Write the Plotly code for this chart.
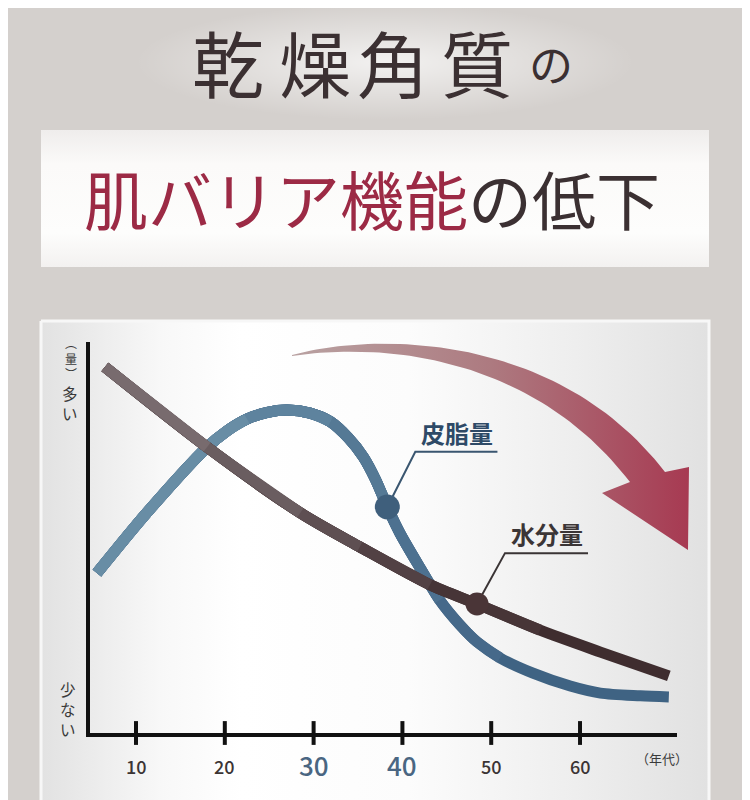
import numpy as np
import plotly.graph_objects as go

# ---------------- data ----------------
sebum_age = [5.6, 11.2, 18.0, 20.2, 22.5, 24.8, 27.0, 29.6, 31.9, 33.9, 35.6, 37.0, 38.3, 39.7, 42.0,
             44.2, 46.5, 48.4, 51.0, 54.7, 58.9, 62.3, 66.8, 70.0]
sebum_val = [40.9, 56.3, 73.1, 77.2, 80.3, 82.0, 82.6, 81.8, 79.6, 75.5, 70.6, 64.7, 57.8, 51.2, 42.2,
             34.0, 27.6, 23.3, 19.2, 15.3, 12.0, 10.2, 9.5, 9.2]
water_age = [6.5, 18.0, 28.5, 35.2, 43.1, 48.4, 55.5, 62.3, 70.0]
water_val = [93.6, 73.1, 56.3, 47.6, 37.9, 33.0, 26.3, 20.7, 14.6]
sebum_marker_idx = 12
water_marker_idx = 5
series_names = ["皮脂量", "水分量"]
tick_vals = [10, 20, 30, 40, 50, 60]
tick_text = ["10", "20", "30", "40", "50", "60"]
highlight_ticks = ["30", "40"]
x_unit = "（年代）"
y_top_label = ["︵", "量", "︶"]
y_high_label = ["多", "い"]
y_low_label = ["少", "な", "い"]
title_chars = ["乾", "燥", "角", "質"]
title_tail = "の"
banner_red = "肌バリア機能"
banner_dark = "の低下"

OFF = 8                      # page body offset
W, H = 750 - OFF, 800 - OFF
FONT = "Noto Sans CJK JP, Noto Sans, sans-serif"

# colour shading along each line (dark end first, then lighter overlays ending earlier)
BLUE_STEPS = [(None, "#3f6383"), (18, "#46698a"), (15, "#4d7190"), (12, "#557995"),
              (8, "#5e839e"), (4, "#688da5")]
BROWN_STEPS = [(None, "#3f2d2f"), (6, "#473537"), (4, "#524144"), (3, "#5e4f52"),
               (2, "#6a5d60"), (1, "#786b6e")]

fig = go.Figure()

def bez(p0, p1, p2, p3, n=60):
    t = np.linspace(0, 1, n)
    x = (1-t)**3*p0[0] + 3*(1-t)**2*t*p1[0] + 3*(1-t)*t**2*p2[0] + t**3*p3[0]
    y = (1-t)**3*p0[1] + 3*(1-t)**2*t*p1[1] + 3*(1-t)*t**2*p2[1] + t**3*p3[1]
    return list(x), list(y)

# ---------- decoration layer (pixel axes x/y) ----------
# title glow
th = np.linspace(0, 2*np.pi, 80)
fig.add_trace(go.Scatter(
    x=list(385 + 250*np.cos(th)), y=list(62 + 58*np.sin(th)),
    mode="lines", line=dict(width=0), fill="toself",
    fillgradient=dict(type="radial",
                      colorscale=[[0, "rgba(255,255,255,0.7)"], [0.6, "rgba(255,255,255,0.28)"], [1, "rgba(255,255,255,0)"]]),
    hoverinfo="skip", showlegend=False, xaxis="x", yaxis="y"))

# banner
fig.add_trace(go.Scatter(
    x=[41, 709, 709, 41, 41], y=[130, 130, 267, 267, 130],
    mode="lines", line=dict(width=0), fill="toself",
    fillgradient=dict(type="vertical",
                      colorscale=[[0, "#f3f1f0"], [0.25, "#fdfdfc"], [0.75, "#fbfaf9"], [1, "#efedec"]]),
    hoverinfo="skip", showlegend=False, xaxis="x", yaxis="y"))

# chart panel
fig.add_trace(go.Scatter(
    x=[41, 709, 709, 41, 41], y=[321, 321, 802, 802, 321],
    mode="lines", line=dict(width=3, color="#f7f7f7"), fill="toself",
    fillgradient=dict(type="horizontal",
                      colorscale=[[0, "#e2e2e2"], [0.18, "#f8f8f8"], [0.3, "#ffffff"],
                                  [0.55, "#fcfcfc"], [0.8, "#eeeeee"], [1, "#e1e1e1"]]),
    hoverinfo="skip", showlegend=False, xaxis="x", yaxis="y"))

# red arrow
ux, uy = bez((292, 355), (380, 331), (560, 335), (665, 472))
lx, ly = bez((630, 482), (540, 365), (400, 340), (292, 356))
ax_ = ux + [689, 688, 602] + lx
ay_ = uy + [467, 550, 493] + ly
fig.add_trace(go.Scatter(
    x=ax_, y=ay_, mode="lines", line=dict(width=0), fill="toself",
    fillgradient=dict(type="horizontal",
                      colorscale=[[0, "#b9a2a2"], [0.5, "#ad7a80"], [1, "#a73a52"]]),
    hoverinfo="skip", showlegend=False, xaxis="x", yaxis="y"))

# ---------- chart layer (x2/y2) ----------
def shaded_line(xs, ys, steps):
    for end, col in steps:
        sl = slice(None) if end is None else slice(0, end + 1)
        fig.add_trace(go.Scatter(
            x=xs[sl], y=ys[sl], mode="lines",
            line=dict(color=col, width=11, shape="spline", smoothing=0.8),
            hoverinfo="skip", showlegend=False, xaxis="x2", yaxis="y2"))

shaded_line(sebum_age, sebum_val, BLUE_STEPS)
shaded_line(water_age, water_val, BROWN_STEPS)

# leader lines
sx, sy = sebum_age[sebum_marker_idx], sebum_val[sebum_marker_idx]
wx, wy = water_age[water_marker_idx], water_val[water_marker_idx]
fig.add_trace(go.Scatter(
    x=[sx, sx + 3.15, sx + 12.4], y=[sy, sy + 14.1, sy + 14.1], mode="lines",
    line=dict(color="#3a5670", width=2), hoverinfo="skip", showlegend=False, xaxis="x2", yaxis="y2"))
fig.add_trace(go.Scatter(
    x=[wx, wx + 3.15, wx + 12.5], y=[wy, wy + 13.0, wy + 13.0], mode="lines",
    line=dict(color="#3a3435", width=2), hoverinfo="skip", showlegend=False, xaxis="x2", yaxis="y2"))

# marker dots
fig.add_trace(go.Scatter(
    x=[sx], y=[sy], mode="markers", marker=dict(size=25, color="#3f5f7c"),
    hoverinfo="skip", showlegend=False, xaxis="x2", yaxis="y2", cliponaxis=False))
fig.add_trace(go.Scatter(
    x=[wx], y=[wy], mode="markers", marker=dict(size=23, color="#4a3537"),
    hoverinfo="skip", showlegend=False, xaxis="x2", yaxis="y2", cliponaxis=False))

# tick marks crossing the axis
fig.add_trace(go.Scatter(
    x=tick_vals, y=[0]*len(tick_vals), mode="markers",
    marker=dict(symbol="line-ns", size=17, line=dict(width=4, color="#111111")),
    hoverinfo="skip", showlegend=False, xaxis="x2", yaxis="y2", cliponaxis=False))

annotations = []

def pix_text(txt, x, y, size, color, weight="normal", xanchor="center"):
    annotations.append(dict(text=txt, x=x, y=y, xref="x", yref="y", showarrow=False,
                            xanchor=xanchor, yanchor="middle", borderpad=0,
                            font=dict(family=FONT, size=size, color=color, weight=weight)))

# title
for ch, cx in zip(title_chars, [228, 315, 393, 477]):
    pix_text(ch, cx, 60, 72, "#3b3032")
pix_text(title_tail, 551, 63, 44, "#3b3032")

# banner text
pix_text('<span style="color:#9c2a45">%s</span><span style="color:#3b3032">%s</span>' % (banner_red, banner_dark),
         372, 197, 64, "#3b3032")

# vertical y labels (one character per line)
pix_text("<br>".join(y_top_label), 71, 358, 12, "#3a3a3a")
pix_text("<br>".join(y_high_label), 70, 403, 15.5, "#3a3a3a")
pix_text("<br>".join(y_low_label), 68, 709, 15.5, "#3a3a3a")

# x unit
pix_text(x_unit, 662, 758, 13, "#3a3a3a")

# tick labels
for v, t in zip(tick_vals, tick_text):
    hi = t in highlight_ticks
    annotations.append(dict(text=t, x=v, y=0, xref="x2", yref="y2", showarrow=False,
                            xanchor="center", yanchor="middle", yshift=-31 if hi else -33,
                            font=dict(family=FONT, size=26 if hi else 18,
                                      color="#4a6682" if hi else "#3b3434", weight=500)))

# series labels
annotations.append(dict(text=series_names[0], x=sx + 7.8, y=sy + 19.0, xref="x2", yref="y2",
                        showarrow=False, xanchor="center", yanchor="middle",
                        font=dict(family=FONT, size=24, color="#2e4a67", weight="bold")))
annotations.append(dict(text=series_names[1], x=wx + 7.9, y=wy + 17.9, xref="x2", yref="y2",
                        showarrow=False, xanchor="center", yanchor="middle",
                        font=dict(family=FONT, size=24, color="#3b3536", weight="bold")))

fig.update_layout(
    width=W, height=H, margin=dict(l=0, r=0, t=0, b=0),
    paper_bgcolor="#d4d0cd", plot_bgcolor="rgba(0,0,0,0)",
    showlegend=False,
    xaxis=dict(range=[OFF, 750], domain=[0, 1], visible=False, fixedrange=True),
    yaxis=dict(range=[800, OFF], domain=[0, 1], visible=False, fixedrange=True),
    xaxis2=dict(range=[4.82, 70.92], domain=[(90-OFF)/W, (677-OFF)/W], anchor="y2",
                showline=True, linewidth=4, linecolor="#111111", showgrid=False,
                zeroline=False, showticklabels=False, ticks=""),
    yaxis2=dict(range=[0, 100], domain=[1-(733-OFF)/H, 1-(342-OFF)/H], anchor="x2",
                showline=True, linewidth=4, linecolor="#111111", showgrid=False,
                zeroline=False, showticklabels=False, ticks=""),
    annotations=annotations,
)

fig.write_html("out.html")
